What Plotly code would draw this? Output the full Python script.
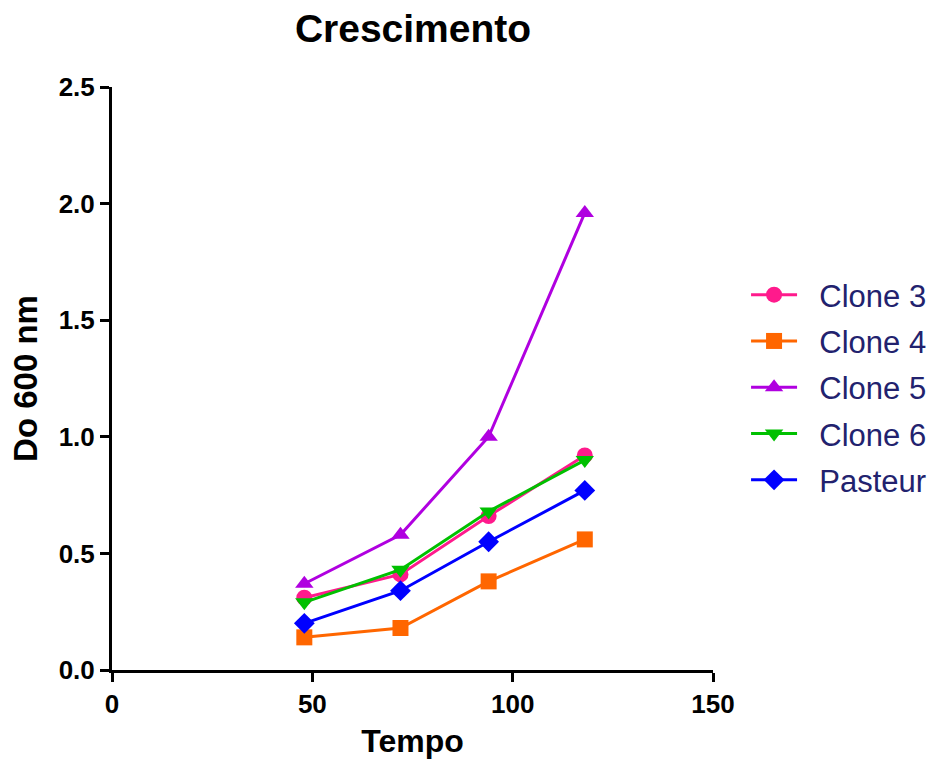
import plotly.graph_objects as go

tempo = [48, 72, 94, 118]
clone3 = [0.31, 0.41, 0.66, 0.92]
clone4 = [0.14, 0.18, 0.38, 0.56]
clone5 = [0.37, 0.58, 1.00, 1.96]
clone6 = [0.29, 0.43, 0.68, 0.90]
pasteur = [0.20, 0.34, 0.55, 0.77]

series = [
    ("Clone 3", clone3, "#ff1a8c", "circle"),
    ("Clone 4", clone4, "#ff6600", "square"),
    ("Clone 5", clone5, "#b000e0", "triangle-up"),
    ("Clone 6", clone6, "#00c000", "triangle-down"),
    ("Pasteur", pasteur, "#0000ff", "diamond"),
]

FONT = "Liberation Sans, Arial, sans-serif"

fig = go.Figure()
for i, (name, ys, color, sym) in enumerate(series):
    fig.add_trace(go.Scatter(
        x=tempo, y=ys, name="\u00a0\u00a0" + name, mode="lines+markers", legendgroup=f"g{i}",
        line=dict(color=color, width=3),
        marker=dict(color=color, symbol=sym, size=16, line=dict(width=0)),
    ))

axis_font = dict(family=FONT, size=26, color="black")
fig.update_layout(
    width=938, height=763,
    margin=dict(l=112, r=225, t=87, b=93, autoexpand=False),
    plot_bgcolor="white", paper_bgcolor="white",
    title=dict(text="<b>Crescimento</b>", x=413/938, xanchor="center", y=1-28/763, yanchor="middle",
               font=dict(family=FONT, size=39, color="black")),
    xaxis=dict(range=[0, 150], tickvals=[0, 50, 100, 150], ticktext=["<b>0</b>", "<b>50</b>", "<b>100</b>", "<b>150</b>"],
               showgrid=False, zeroline=False, showline=True, linecolor="black", linewidth=3,
               ticks="outside", ticklen=9, tickwidth=3, tickcolor="black", tickfont=axis_font,
               title=dict(text="<b>Tempo</b>", font=dict(family=FONT, size=32, color="black"), standoff=12)),
    yaxis=dict(range=[0, 2.5], tickvals=[0, 0.5, 1.0, 1.5, 2.0, 2.5],
               ticktext=["<b>0.0</b>", "<b>0.5</b>", "<b>1.0</b>", "<b>1.5</b>", "<b>2.0</b>", "<b>2.5</b>"],
               showgrid=False, zeroline=False, showline=True, linecolor="black", linewidth=3,
               ticks="outside", ticklen=9, tickwidth=3, tickcolor="black", tickfont=axis_font,
               title=dict(text="<b>Do 600 nm</b>", font=dict(family=FONT, size=33, color="black"), standoff=12)),
    legend=dict(x=1.055, xanchor="left", y=(670-268)/583, yanchor="top",
                font=dict(family=FONT, size=31, color="#22226e"),
                bgcolor="rgba(0,0,0,0)", itemwidth=46, traceorder="grouped", tracegroupgap=3),
)
fig.write_html("out.html")
